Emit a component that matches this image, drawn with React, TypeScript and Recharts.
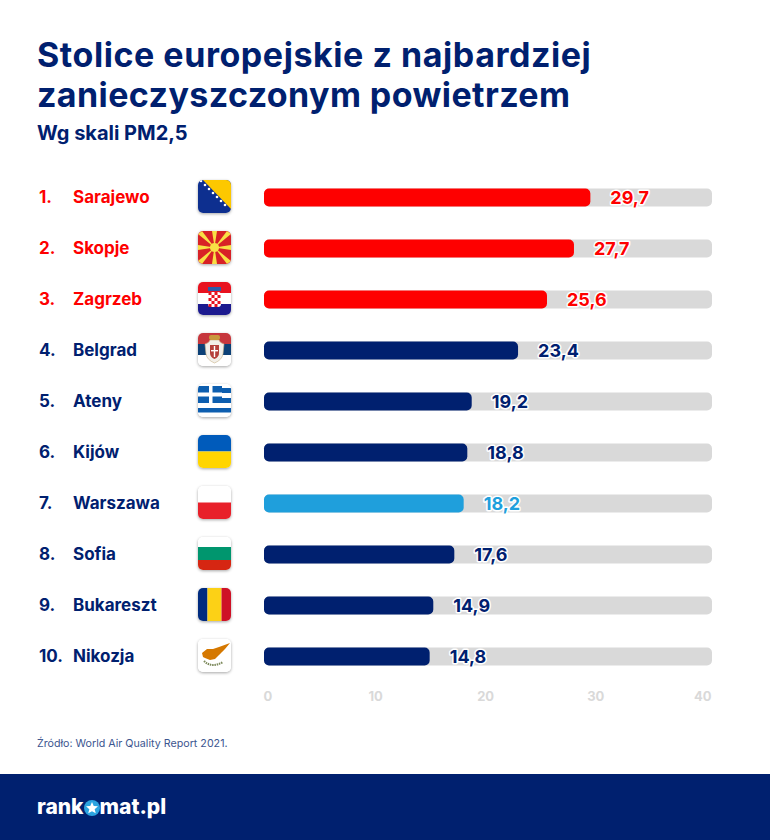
import { BarChart, Bar, XAxis, YAxis, Cell, LabelList } from 'recharts';

const cities = ['Sarajewo', 'Skopje', 'Zagrzeb', 'Belgrad', 'Ateny', 'Kijów', 'Warszawa', 'Sofia', 'Bukareszt', 'Nikozja'];
// printed values
const values = [29.7, 27.7, 25.6, 23.4, 19.2, 18.8, 18.2, 17.6, 14.9, 14.8];
// bar lengths as drawn in the picture, they drift a little from the printed values
const barLengths = [29.65, 28.16, 25.71, 23.08, 18.87, 18.47, 18.14, 17.29, 15.38, 15.05];
const flags = ['ba', 'mk', 'hr', 'rs', 'gr', 'ua', 'pl', 'bg', 'ro', 'cy'];
const xTicks = [0, 10, 20, 30, 40];

const NAVY = '#00206f';
const RED = '#fe0000';
const SKY = '#1f9fdc';
const barColors = [RED, RED, RED, NAVY, NAVY, NAVY, SKY, NAVY, NAVY, NAVY];

const FONT = 'Inter, sans-serif';
const data = cities.map((city, i) => ({ city, length: barLengths[i], value: values[i] }));

function FlagArt({ code }: { code: string }) {
  const rect = (y: number, h: number, fill: string) => <rect x={0} y={y} width={33} height={h} fill={fill} />;
  switch (code) {
    case 'ba':
      return (
        <>
          {rect(0, 33, '#0d2f8f')}
          <polygon points="5,0 33,0 33,29" fill="#fdc800" />
          {[3, 7, 11, 15, 19, 23, 27].map((p) => (
            <circle key={p} cx={p} cy={p - 2} r={1.3} fill="#fff" />
          ))}
        </>
      );
    case 'mk':
      return (
        <>
          {rect(0, 33, '#d82126')}
          <g fill="#f8e045">
            <polygon points="14,0 19,0 16.5,16" />
            <polygon points="14,33 19,33 16.5,16" />
            <polygon points="0,14 0,19 16.5,16.5" />
            <polygon points="33,14 33,19 16.5,16.5" />
            <polygon points="0,3 4,0 16.5,16.5" />
            <polygon points="33,3 29,0 16.5,16.5" />
            <polygon points="0,30 4,33 16.5,16.5" />
            <polygon points="33,30 29,33 16.5,16.5" />
            <circle cx={16.5} cy={16.5} r={4.6} />
          </g>
        </>
      );
    case 'hr':
      return (
        <>
          {rect(0, 11, '#e8121f')}
          {rect(11, 11, '#fff')}
          {rect(22, 11, '#1c1a8f')}
          <rect x={10} y={5} width={13} height={4} fill="#2d5aa8" />
          <rect x={10} y={10} width={13} height={15} rx={3} fill="#fff" />
          {[0, 1, 2, 3, 4].map((r) =>
            [0, 1, 2, 3].map((c) =>
              (r + c) % 2 === 0 ? <rect key={`${r}-${c}`} x={10.5 + c * 3} y={10 + r * 3} width={3} height={3} fill="#e8121f" /> : null,
            ),
          )}
        </>
      );
    case 'rs':
      return (
        <>
          {rect(0, 11, '#c6363c')}
          {rect(11, 11, '#0c4076')}
          {rect(22, 11, '#fff')}
          <path d="M7 11q4-1 5-4h9q1 3 5 4l-1 10q-1 6-8.500 9-7.500-3-8.500-9z" fill="#f2efe9" stroke="#c9b48a" strokeWidth={0.6} />
          <rect x={11} y={2} width={11} height={5} rx={2} fill="#c9983c" />
          <path d="M12 12h9v8q0 4-4.500 6-4.500-2-4.500-6z" fill="#b5403c" />
          <rect x={15.800} y={13} width={1.4} height={11} fill="#fff" />
          <rect x={13} y={17} width={7} height={1.4} fill="#fff" />
        </>
      );
    case 'gr':
      return (
        <>
          {rect(0, 33, '#fff')}
          <rect x={0} y={2} width={24} height={17} fill="#0d5eaf" />
          <rect x={24} y={4} width={9} height={5} fill="#0d5eaf" />
          <rect x={24} y={14} width={9} height={5} fill="#0d5eaf" />
          <rect x={11} y={0} width={3.5} height={19} fill="#fff" />
          <rect x={0} y={8.5} width={24} height={4} fill="#fff" />
          <rect x={0} y={24} width={33} height={4.5} fill="#0d5eaf" />
        </>
      );
    case 'ua':
      return (
        <>
          {rect(0, 16.5, '#005bbb')}
          {rect(16.5, 16.5, '#ffd500')}
        </>
      );
    case 'pl':
      return (
        <>
          {rect(0, 16.5, '#fff')}
          {rect(16.5, 16.5, '#e8202a')}
        </>
      );
    case 'bg':
      return (
        <>
          {rect(0, 10, '#fff')}
          {rect(10, 13, '#00966e')}
          {rect(23, 10, '#d62612')}
        </>
      );
    case 'ro':
      return (
        <>
          <rect x={0} y={0} width={9.500} height={33} fill="#002b7f" />
          <rect x={9.500} y={0} width={14} height={33} fill="#fcd116" />
          <rect x={23.500} y={0} width={9.500} height={33} fill="#ce1126" />
        </>
      );
    default:
      return (
        <>
          {rect(0, 33, '#fff')}
          <path d="M4 14L9 10L15 10L21 8L32 4L27 10L24 13L21 16L17 20L12 21L7 19L5 18Z" fill="#d57800" />
          <path d="M6 22q4 4 9 4t10-3" fill="none" stroke="#7d8a5c" strokeWidth={2} strokeDasharray="1.500 0.800" />
        </>
      );
  }
}

function CityTick({ y, index, payload }: any) {
  const i = index ?? cities.indexOf(payload.value);
  const color = barColors[i] === RED ? RED : NAVY;
  const clip = `flag-${flags[i]}`;
  return (
    <g fontFamily={FONT} fontWeight={700} fontSize={17} fill={color}>
      <text x={39} y={y + 6}>{`${i + 1}.`}</text>
      <text x={73} y={y + 6}>{payload.value}</text>
      <g transform={`translate(198 ${y - 17})`}>
        <clipPath id={clip}>
          <rect width={33} height={33} rx={5} />
        </clipPath>
        <rect width={33} height={33} rx={5} fill="#fff" style={{ filter: 'drop-shadow(0 1px 1.500px rgba(0,0,0,.35))' }} />
        <g clipPath={`url(#${clip})`}>
          <FlagArt code={flags[i]} />
        </g>
      </g>
    </g>
  );
}

function ValueTick({ x, y, payload }: any) {
  const shift = payload.value === 0 ? 4 : payload.value === 40 ? -1.5 : 1.5;
  return (
    <text x={x + shift} y={y + 11} textAnchor="middle" fontFamily={FONT} fontWeight={700} fontSize={13} fill="#d9d9d9">
      {payload.value}
    </text>
  );
}

function ValueLabel({ x, y, width, height, value, index }: any) {
  return (
    <text
      x={x + width + 20}
      y={y + height / 2 + 6.500}
      fontFamily={FONT}
      fontWeight={700}
      fontSize={18}
      fill={barColors[index]}
      stroke="#fff"
      strokeWidth={3}
      strokeLinejoin="round"
      style={{ paintOrder: 'stroke' }}
    >
      {String(value).replace('.', ',')}
    </text>
  );
}

export default function App() {
  return (
    <div style={{ position: 'absolute', left: 0, top: 0, width: 770, height: 840, background: '#fff', overflow: 'hidden', fontFamily: FONT, color: NAVY }}>
      <div style={{ position: 'absolute', left: 37, top: 35, fontSize: 34, lineHeight: '39.500px', fontWeight: 700, letterSpacing: 0.55, whiteSpace: 'nowrap' }}>
        Stolice europejskie z najbardziej
        <br />
        <span style={{ letterSpacing: 0.4 }}>zanieczyszczonym powietrzem</span>
      </div>
      <div style={{ position: 'absolute', left: 37, top: 120, fontSize: 20, lineHeight: '26px', fontWeight: 700 }}>Wg skali PM2,5</div>

      <div style={{ position: 'absolute', left: 0, top: 160 }}>
        <BarChart layout="vertical" width={770} height={560} data={data} margin={{ top: 11.5, right: 58, bottom: 8.5, left: 0 }}>
          <XAxis type="number" domain={[0, 40.7]} ticks={xTicks} axisLine={false} tickLine={false} height={30} tick={<ValueTick />} />
          <YAxis type="category" dataKey="city" width={264} interval={0} axisLine={false} tickLine={false} tick={<CityTick />} />
          <Bar dataKey="length" barSize={18} radius={5} background={{ fill: '#d9d9d9', radius: 5 }} isAnimationActive={false}>
            {data.map((d, i) => (
              <Cell key={d.city} fill={barColors[i]} />
            ))}
            <LabelList dataKey="value" content={<ValueLabel />} />
          </Bar>
        </BarChart>
      </div>

      <div style={{ position: 'absolute', left: 37, top: 737, fontSize: 10.7, lineHeight: '14px', color: '#3d5690' }}>Źródło: World Air Quality Report 2021.</div>
      <div style={{ position: 'absolute', left: 0, top: 774, width: 770, height: 66, background: NAVY }}>
        <div style={{ position: 'absolute', left: 37, top: 19, color: '#fff', fontSize: 21, lineHeight: '28px', fontWeight: 800, display: 'flex', alignItems: 'center', whiteSpace: 'nowrap' }}>
          rank
          <svg width={16} height={16} viewBox="0 0 24 24" style={{ margin: '2px 0 0 0' }}>
            <circle cx={12} cy={12} r={12} fill="#2ba3e0" />
            <polygon points="12,3 14.600,9 21,9.500 16,13.800 17.600,20 12,16.700 6.400,20 8,13.800 3,9.500 9.400,9" fill="#fff" />
          </svg>
          mat.pl
        </div>
      </div>
    </div>
  );
}
